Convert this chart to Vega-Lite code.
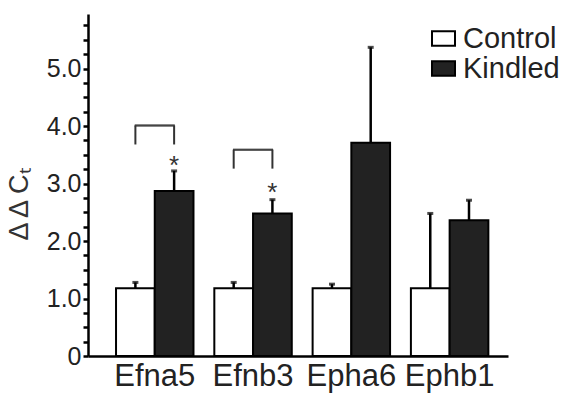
{
  "$schema": "https://vega.github.io/schema/vega-lite/v6.json",
  "autosize": "none",
  "width": 420,
  "height": 342,
  "padding": {"left": 88, "top": 14, "right": 60, "bottom": 38},
  "background": "white",
  "config": {
    "view": {"stroke": null},
    "font": "Liberation Sans"
  },
  "datasets": {
    "bars": [
      {"gene": "Efna5", "group": "Control", "value": 1.18, "upper": 1.28},
      {"gene": "Efna5", "group": "Kindled", "value": 2.87, "upper": 3.22},
      {"gene": "Efnb3", "group": "Control", "value": 1.18, "upper": 1.28},
      {"gene": "Efnb3", "group": "Kindled", "value": 2.48, "upper": 2.72},
      {"gene": "Epha6", "group": "Control", "value": 1.18, "upper": 1.25},
      {"gene": "Epha6", "group": "Kindled", "value": 3.71, "upper": 5.37},
      {"gene": "Ephb1", "group": "Control", "value": 1.18, "upper": 2.48},
      {"gene": "Ephb1", "group": "Kindled", "value": 2.36, "upper": 2.71}
    ],
    "brackets": [
      {"gene": "Efna5", "group": "Control", "bottom": 3.68, "top": 4.01},
      {"gene": "Efna5", "group": "Kindled", "bottom": 3.68, "top": 4.01},
      {"gene": "Efnb3", "group": "Control", "bottom": 3.26, "top": 3.59},
      {"gene": "Efnb3", "group": "Kindled", "bottom": 3.26, "top": 3.59}
    ],
    "stars": [
      {"gene": "Efna5", "group": "Kindled", "y": 3.41, "label": "*"},
      {"gene": "Efnb3", "group": "Kindled", "y": 2.94, "label": "*"}
    ]
  },
  "encoding": {
    "x": {
      "field": "gene",
      "type": "nominal",
      "sort": ["Efna5", "Efnb3", "Epha6", "Ephb1"],
      "scale": {"type": "band", "paddingInner": 0.212, "paddingOuter": 0.2425, "align": 0.588},
      "axis": {
        "title": null,
        "labelAngle": 0,
        "domainColor": "black",
        "domainWidth": 2.5,
        "ticks": false,
        "labelFont": "Liberation Sans",
        "labelFontSize": 31,
        "labelColor": "#222222",
        "labelPadding": 5
      }
    }
  },
  "layer": [
    {
      "data": {"name": "bars"},
      "mark": {"type": "bar", "stroke": "black", "strokeWidth": 2},
      "encoding": {
        "xOffset": {"field": "group", "type": "nominal", "scale": {"paddingInner": 0, "paddingOuter": 0}},
        "y": {
          "field": "value",
          "type": "quantitative",
          "scale": {"domain": [0, 5.95], "nice": false, "zero": true},
          "axis": {
            "title": "Δ  Δ  Cₜ",
            "titleFont": "Liberation Sans",
            "titleFontSize": 27,
            "titleFontWeight": "normal",
            "titleColor": "#333333",
            "titleX": -55,
            "titleY": 190,
            "grid": false,
            "domainColor": "black",
            "domainWidth": 2.5,
            "tickColor": "black",
            "tickWidth": 2.5,
            "tickSize": 5,
            "tickCount": 100,
            "labelOverlap": false,
            "values": [0, 0.25, 0.5, 0.75, 1, 1.25, 1.5, 1.75, 2, 2.25, 2.5, 2.75, 3, 3.25, 3.5, 3.75, 4, 4.25, 4.5, 4.75, 5, 5.25, 5.5, 5.75],
            "labelExpr": "datum.value == 0 ? '0' : (datum.value % 1 == 0 ? format(datum.value, '.1f') : '')",
            "labelFont": "Liberation Sans",
            "labelFontSize": 25,
            "labelColor": "#222222",
            "labelPadding": 2
          }
        },
        "fill": {
          "field": "group",
          "type": "nominal",
          "scale": {"domain": ["Control", "Kindled"], "range": ["#ffffff", "#222222"]},
          "legend": {
            "title": null,
            "orient": "none",
            "legendX": 341,
            "legendY": 10,
            "padding": 0,
            "symbolType": "M-1,-0.62L1,-0.62L1,0.62L-1,0.62Z",
            "symbolSize": 529,
            "symbolStrokeColor": "black",
            "symbolStrokeWidth": 2,
            "labelFont": "Liberation Sans",
            "labelFontSize": 29,
            "labelColor": "#222222",
            "labelOffset": 5,
            "rowPadding": -3
          }
        }
      }
    },
    {
      "data": {"name": "bars"},
      "mark": {"type": "rule", "color": "black", "strokeWidth": 2.5},
      "encoding": {
        "xOffset": {"field": "group", "type": "nominal"},
        "y": {"field": "value", "type": "quantitative"},
        "y2": {"field": "upper"}
      }
    },
    {
      "data": {"name": "bars"},
      "mark": {"type": "tick", "color": "black", "size": 6, "thickness": 3, "orient": "horizontal"},
      "encoding": {
        "xOffset": {"field": "group", "type": "nominal"},
        "y": {"field": "upper", "type": "quantitative"}
      }
    },
    {
      "data": {"name": "brackets"},
      "mark": {"type": "rule", "color": "#333333", "strokeWidth": 2},
      "encoding": {
        "xOffset": {"field": "group", "type": "nominal"},
        "y": {"field": "bottom", "type": "quantitative"},
        "y2": {"field": "top"}
      }
    },
    {
      "data": {"name": "brackets"},
      "mark": {"type": "tick", "color": "#333333", "size": 40, "thickness": 2, "orient": "horizontal"},
      "encoding": {
        "y": {"field": "top", "type": "quantitative"}
      }
    },
    {
      "data": {"name": "stars"},
      "mark": {"type": "text", "font": "Liberation Sans", "fontSize": 26, "color": "#333333", "baseline": "middle", "dy": 6},
      "encoding": {
        "xOffset": {"field": "group", "type": "nominal"},
        "y": {"field": "y", "type": "quantitative"},
        "text": {"field": "label"}
      }
    }
  ]
}
